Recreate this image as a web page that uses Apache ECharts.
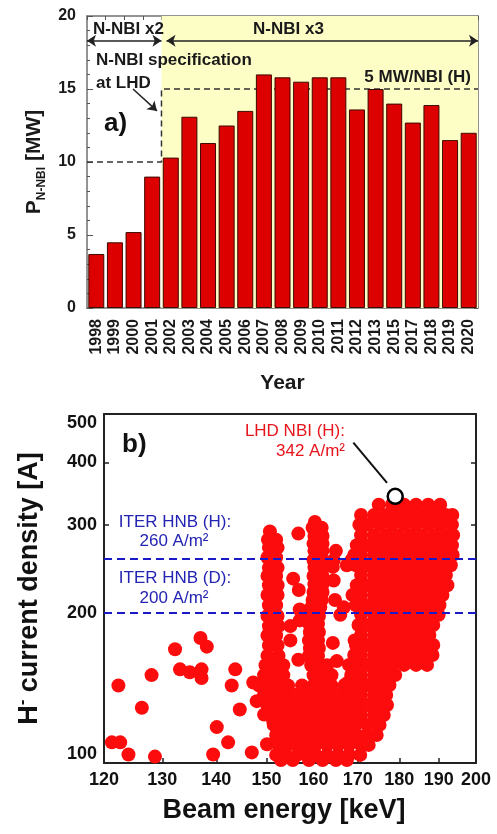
<!DOCTYPE html>
<html><head><meta charset="utf-8">
<script src="https://cdn.jsdelivr.net/npm/echarts@6/dist/echarts.min.js"></script>
<style>html,body{margin:0;padding:0;background:#fff}#c{width:497px;height:834px}</style>
</head><body><div id="c"></div>
<script>
// ---------- panel a) data ----------
const years = ['1998','1999','2000','2001','2002','2003','2004','2005','2006','2007','2008','2009','2010','2011','2012','2013','2015','2017','2018','2019','2020'];
const powerMW = [3.7,4.5,5.2,9.0,10.3,13.1,11.3,12.5,13.5,16.0,15.8,15.5,15.8,15.8,13.6,15.0,14.0,12.7,13.9,11.5,12.0];
const powerTicks = [0,5,10,15,20];
// specification step (index-space x on hidden axis, MW)
const specLine = [[-0.5,10],[3.5,10],[3.5,15],[20.5,15]];

// ---------- panel b) data ----------
const energyTicks = [120,130,140,150,160,170,180,190,200];
const densityTicks = [100,200,300,400,500];
const iterLevels = [260,200];
const lhdRecord = [179,342];
// [beam energy keV, current density A/m2]
const lowEnergyShots = [[122.4,143],[126.4,129],[121.3,110],[122.7,110],[124.1,104],[128.7,103],[128.1,150],[132.3,169],[133.2,154],[135.0,152],[137.2,154],[137.2,148],[137.0,178],[138.2,171],[140.1,118],[139.4,104],[142.3,110],[143.7,154],[143.0,143],[144.6,128],[147.0,105],[147.3,145],[148.0,133],[150.1,131],[151.4,121],[150.1,109]];
// rows: [current density, [beam energies]]
const col150Rows = [[291,[150.7]],[288,[156.7]],[280,[150.3,152.0]],[270,[150.5,152.3]],[258,[150.2,152.0]],[246,[150.5,152.3]],[237,[150.2,152.0]],[234,[155.6]],[227,[150.5,152.3]],[222,[156.8]],[217,[150.2,152.3]],[207,[150.5,152.0]],[203,[157.0]],[197,[150.2,152.3]],[193,[157.0]],[188,[150.5,152.5,155.0]],[180,[150.2,152.0]],[176,[155.0]],[172,[150.5,152.3]],[164,[150.2,152.5]],[161,[156.7]],[157,[149.8,152.0,153.5]],[150,[149.5,151.5,153.5]],[143,[148.5,150.5,152.5,154.5]],[137,[149.5,151.5,153.5,155.5]],[131,[152.0,154.0,156.0]],[125,[149.5,151.5,153.5,155.5,157.5]]];
const col160Rows = [[304,[160.3]],[296,[159.8,161.8]],[285,[160.2,162.0]],[275,[160.0,162.0]],[266,[160.2,162.0,165.0]],[255,[160.0,162.0,164.5,168.6]],[249,[167.5]],[247,[160.2,162.0,164.3]],[237,[160.0,162.0]],[232,[164.5]],[228,[160.2,162.0]],[220,[160.0,162.0]],[212,[159.8,161.8,164.8]],[205,[159.5,161.5,166.8]],[198,[166.0]],[197,[159.2,161.2]],[190,[159.0,161.0]],[183,[159.2,161.2]],[176,[159.0,161.0,169.3]],[174,[164.3]],[170,[159.2,161.2]],[164,[159.0,161.0]],[160,[165.2]],[157,[159.5,161.5,163.0]],[150,[160.0,162.0,164.0]],[145,[167.8]],[143,[157.5,160.0,162.0,164.0]]];
const blobRows = [
 [329,[175.0,178.2,181.2,184.2,187.3,190.4]],
 [314,[170.8,173.9,176.8,179.7,182.7,185.7,188.8,191.9,193.6]],
 [300,[170.4,172.4,175.3,178.2,181.2,184.2,187.3,190.4,193.5]],
 [286,[170.8,173.9,176.8,179.7,182.7,185.7,188.8,191.9,193.8]],
 [273,[169.8,172.4,175.3,178.2,181.2,184.2,187.3,190.4,193.5]],
 [261,[169.2,170.8,173.9,176.8,179.7,182.7,185.7,188.8,191.9,193.7]],
 [249,[169.6,172.4,175.3,178.2,181.2,184.2,187.3,190.4,193.2]],
 [238,[170.8,173.9,176.8,179.7,182.7,185.7,188.8,191.9]],
 [227,[169.8,172.4,175.3,178.2,181.2,184.2,187.3,190.4,192.3]],
 [217,[168.8,170.8,173.9,176.8,179.7,182.7,185.7,188.8,191.0]],
 [207,[169.6,172.4,175.3,178.2,181.2,184.2,187.3,190.2]],
 [198,[170.8,173.9,176.8,179.7,182.7,185.7,188.6,190.0]],
 [189,[170.2,172.4,175.3,178.2,181.2,184.2,187.3,188.6]],
 [180.5,[170.8,173.9,176.8,179.7,182.7,185.7,187.6]],
 [172.4,[169.6,172.4,175.3,178.2,181.2,184.2,187.3,188.6]],
 [164.6,[169.2,170.8,173.9,176.8,179.7,182.7,185.7,188.4]],
 [157.2,[168.0,170.2,172.4,175.3,178.2,181.2,184.2,187.0]],
 [150.1,[168.5,170.8,173.9,176.8,179.0]],
 [143.3,[167.0,169.6,172.4,175.3,177.6]]
];
const bandRows = [
 [136.9,[154.0,156.0,158.0,160.0,162.0,163.7,165.5,168.0,170.8,173.9,176.8]],
 [130.7,[153.5,155.5,157.5,159.5,161.5,163.7,165.5,167.3,169.6,172.4,175.3,177.0]],
 [124.8,[152.5,154.5,156.5,158.5,160.5,162.5,164.5,166.5,168.5,170.8,173.9,176.2]],
 [119.2,[151.5,153.5,155.5,157.5,159.5,161.5,163.5,165.5,167.5,169.6,172.4,175.2]],
 [113.8,[152.0,154.0,156.0,158.4,160.5,162.5,165.0,167.3,169.6,172.0,174.5]],
 [108.7,[152.5,154.5,156.5,158.4,160.5,163.0,165.5,168.0,170.8,172.6]],
 [103.8,[152.0,154.0,156.5,158.4,160.5,163.0,165.5,168.0,170.6]],
 [101.4,[153.0,155.5,159.0,162.0,165.0,167.5]]
];

// ---------- build ----------
const FF = "'Liberation Sans', Arial, Helvetica, sans-serif";
const L = v => Math.log10(v);
const rowsToPairs = rows => rows.flatMap(([j, es]) => es.map(e => [e, j]));
const allShots = [].concat(lowEnergyShots, rowsToPairs(col150Rows), rowsToPairs(col160Rows), rowsToPairs(blobRows), rowsToPairs(bandRows));
const fmtPow = v => String(Math.round(Math.pow(10, v)));

const greyAxis = {show:true, onZero:false, lineStyle:{color:'#707070', width:1.5}};
const darkAxis = {show:true, onZero:false, lineStyle:{color:'#222', width:2}};

function txt(x, y, text, font, fill, align) {
  return {type:'text', x:x, y:y, silent:true, z:100,
    style:{text:text, font:font, fill:fill, textAlign:align||'left', textVerticalAlign:'middle', align:align||'left', verticalAlign:'middle'}};
}

const option = {
  animation:false,
  textStyle:{fontFamily:FF},
  grid:[
    {left:87, top:16, right:19, bottom:526},
    {left:104, top:414, right:21, bottom:71}
  ],
  xAxis:[
    {type:'category', gridIndex:0, position:'bottom', data:years,
     axisLine:greyAxis, axisTick:{inside:true, length:4, lineStyle:{color:'#555'}},
     axisLabel:{rotate:90, interval:0, margin:11, fontSize:16, fontWeight:'bold', color:'#1a1a1a', fontFamily:FF},
     name:'Year', nameLocation:'middle', nameGap:65,
     nameTextStyle:{fontSize:21, fontWeight:'bold', color:'#1a1a1a', fontFamily:FF}},
    {type:'value', gridIndex:0, position:'top', min:-0.5, max:20.5, interval:1,
     axisLine:greyAxis, axisTick:{show:true, inside:true, length:4, lineStyle:{color:'#555'}},
     axisLabel:{show:false}, splitLine:{show:false}},
    {type:'value', gridIndex:1, position:'bottom', min:L(120), max:L(200),
     axisLine:darkAxis,
     axisTick:{show:true, inside:true, length:5, customValues:energyTicks.map(L), lineStyle:{color:'#222', width:1.5}},
     axisLabel:{customValues:energyTicks.map(L), formatter:fmtPow, fontSize:18, fontWeight:'bold', color:'#111', margin:8, fontFamily:FF},
     splitLine:{show:false},
     name:'Beam energy [keV]', nameLocation:'middle', nameGap:34,
     nameTextStyle:{fontSize:27, fontWeight:'bold', color:'#111', fontFamily:FF, padding:[0,12,0,0]}},
    {type:'value', gridIndex:1, position:'top', min:L(120), max:L(200),
     axisLine:darkAxis, axisTick:{show:false}, axisLabel:{show:false}, splitLine:{show:false}}
  ],
  yAxis:[
    {type:'value', gridIndex:0, position:'left', min:0, max:20, interval:5,
     axisLine:greyAxis, axisTick:{show:true, inside:true, length:6, lineStyle:{color:'#555'}},
     minorTick:{show:true, splitNumber:5, length:3, lineStyle:{color:'#555'}},
     axisLabel:{fontSize:16, fontWeight:'bold', color:'#1a1a1a', margin:11, fontFamily:FF},
     splitLine:{show:false},
     name:'{p|P}{s|N-NBI}{p| [MW]}', nameLocation:'middle', nameRotate:90, nameGap:37,
     nameTextStyle:{rich:{
       p:{fontSize:21, fontWeight:'bold', color:'#1a1a1a', fontFamily:FF, lineHeight:26},
       s:{fontSize:12, fontWeight:'bold', color:'#1a1a1a', fontFamily:FF, lineHeight:12, verticalAlign:'bottom'}
     }}},
    {type:'value', gridIndex:0, position:'right', min:0, max:20, interval:1,
     axisLine:greyAxis, axisTick:{show:true, inside:true, length:4, lineStyle:{color:'#555'}},
     axisLabel:{show:false}, splitLine:{show:false}},
    {type:'value', gridIndex:1, position:'left', min:L(100), max:L(500),
     axisLine:darkAxis,
     axisTick:{show:true, inside:true, length:5, customValues:densityTicks.map(L), lineStyle:{color:'#222', width:1.5}},
     axisLabel:{customValues:densityTicks.map(L), formatter:fmtPow, fontSize:18, fontWeight:'bold', color:'#111', margin:7, fontFamily:FF,
       verticalAlignMinLabel:'bottom', verticalAlignMaxLabel:'top'},
     splitLine:{show:false},
     name:'{h|H}{m|-}{h| current density [A]}', nameLocation:'middle', nameRotate:90, nameGap:58,
     nameTextStyle:{rich:{
       h:{fontSize:27, fontWeight:'bold', color:'#111', fontFamily:FF, lineHeight:32},
       m:{fontSize:17, fontWeight:'bold', color:'#111', fontFamily:FF, lineHeight:17, verticalAlign:'top'}
     }}},
    {type:'value', gridIndex:1, position:'right', min:L(100), max:L(500),
     axisLine:darkAxis,
     axisTick:{show:true, inside:true, length:5, customValues:densityTicks.map(L), lineStyle:{color:'#222', width:1.5}},
     axisLabel:{show:false}, splitLine:{show:false}}
  ],
  series:[
    {type:'line', name:'spec', xAxisIndex:1, yAxisIndex:0, data:specLine, symbol:'none', silent:true, z:1.5,
     lineStyle:{color:'#333', type:[6,4], width:1.5},
     markArea:{silent:true, z:1, itemStyle:{color:'#fdfdc6'},
       data:[[{coord:[3.5,0]},{coord:[20.5,20]}]]},
     markLine:{silent:true, symbol:['arrow','arrow'], symbolSize:9, label:{show:false},
       lineStyle:{color:'#222', type:'solid', width:1.5},
       data:[
         [{coord:[-0.5,18.3]},{coord:[3.5,18.3]}],
         [{coord:[3.77,18.3]},{coord:[20.5,18.3]}],
         [{coord:[1.97,15.0], symbol:'none'},{coord:[3.26,13.5], symbol:'arrow'}]
       ]}},
    {type:'bar', name:'P', xAxisIndex:0, yAxisIndex:0, data:powerMW, barWidth:16, z:2,
     itemStyle:{color:'#dd0000', borderColor:'#3c0a00', borderWidth:1}},
    {type:'scatter', name:'shots', xAxisIndex:2, yAxisIndex:2, symbolSize:14, z:3,
     data:allShots.map(([e,j]) => [L(e), L(j)]),
     itemStyle:{color:'#fc0c0c', opacity:1, borderWidth:0, borderColor:'transparent', shadowBlur:0},
     emphasis:{disabled:true},
     markLine:{silent:true, symbol:'none', label:{show:false},
       lineStyle:{color:'#1a1ac8', type:[8,5], width:2},
       data:iterLevels.map(v => ({yAxis:L(v)}))}},
    {type:'scatter', name:'record', xAxisIndex:2, yAxisIndex:2, symbolSize:15, z:6,
     data:[[L(lhdRecord[0]), L(lhdRecord[1])]],
     itemStyle:{color:'#ffffff', borderColor:'#000', borderWidth:2.5, opacity:1},
     markLine:{silent:true, symbol:'none', label:{show:false},
       lineStyle:{color:'#111', type:'solid', width:2},
       data:[[{coord:[L(169),L(438)]},{coord:[L(177),L(364)]}]]}}
  ],
  graphic:[
    txt(93, 29, 'N-NBI x2', "bold 17px " + FF, '#1a1a1a'),
    txt(253, 29, 'N-NBI x3', "bold 17px " + FF, '#1a1a1a'),
    txt(96, 60, 'N-NBI specification', "bold 17px " + FF, '#1a1a1a'),
    txt(96, 83, 'at LHD', "bold 17px " + FF, '#1a1a1a'),
    txt(471, 77, '5 MW/NBI (H)', "bold 17px " + FF, '#1a1a1a', 'right'),
    txt(104, 124, 'a)', "bold 26px " + FF, '#111'),
    txt(122, 445, 'b)', "bold 26px " + FF, '#111'),
    txt(345, 431, 'LHD NBI (H):', "17px " + FF, '#e8141c', 'right'),
    txt(345, 451, '342 A/m\u00B2', "17px " + FF, '#e8141c', 'right'),
    txt(175, 522, 'ITER HNB (H):', "17px " + FF, '#2424b4', 'center'),
    txt(174, 541, '260 A/m\u00B2', "17px " + FF, '#2424b4', 'center'),
    txt(175, 578, 'ITER HNB (D):', "17px " + FF, '#2424b4', 'center'),
    txt(174, 598, '200 A/m\u00B2', "17px " + FF, '#2424b4', 'center')
  ]
};
const chart = echarts.init(document.getElementById('c'), null, {renderer:'canvas'});
chart.setOption(option);
</script>
</body></html>
